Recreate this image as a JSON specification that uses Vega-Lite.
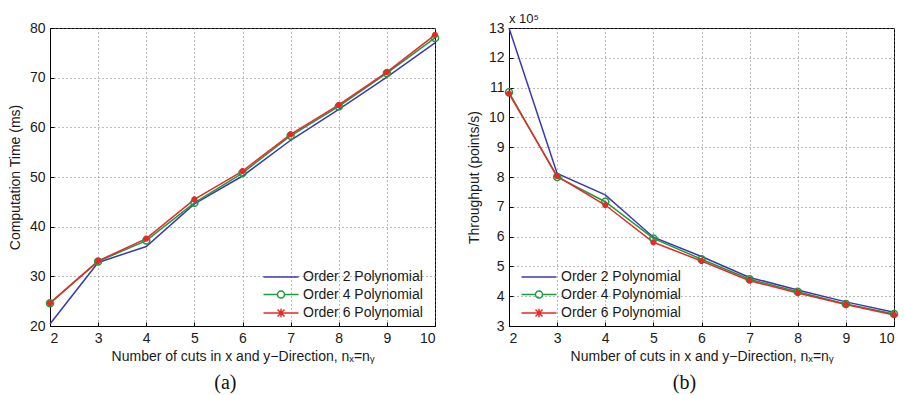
{
  "$schema": "https://vega.github.io/schema/vega-lite/v6.json",
  "background": "white",
  "padding": {"left": 7, "top": 12, "right": 5, "bottom": 0},
  "datasets": {
    "time": [
      {"n": 2, "order": "Order 2 Polynomial", "value": 20.4},
      {"n": 3, "order": "Order 2 Polynomial", "value": 32.8},
      {"n": 4, "order": "Order 2 Polynomial", "value": 36.0},
      {"n": 5, "order": "Order 2 Polynomial", "value": 44.6},
      {"n": 6, "order": "Order 2 Polynomial", "value": 50.2},
      {"n": 7, "order": "Order 2 Polynomial", "value": 57.4},
      {"n": 8, "order": "Order 2 Polynomial", "value": 63.6},
      {"n": 9, "order": "Order 2 Polynomial", "value": 70.1},
      {"n": 10, "order": "Order 2 Polynomial", "value": 77.0},
      {"n": 2, "order": "Order 4 Polynomial", "value": 24.6},
      {"n": 3, "order": "Order 4 Polynomial", "value": 33.0},
      {"n": 4, "order": "Order 4 Polynomial", "value": 37.2},
      {"n": 5, "order": "Order 4 Polynomial", "value": 44.8},
      {"n": 6, "order": "Order 4 Polynomial", "value": 50.8},
      {"n": 7, "order": "Order 4 Polynomial", "value": 58.3},
      {"n": 8, "order": "Order 4 Polynomial", "value": 64.2},
      {"n": 9, "order": "Order 4 Polynomial", "value": 70.9},
      {"n": 10, "order": "Order 4 Polynomial", "value": 78.0},
      {"n": 2, "order": "Order 6 Polynomial", "value": 24.6},
      {"n": 3, "order": "Order 6 Polynomial", "value": 33.1},
      {"n": 4, "order": "Order 6 Polynomial", "value": 37.6},
      {"n": 5, "order": "Order 6 Polynomial", "value": 45.5},
      {"n": 6, "order": "Order 6 Polynomial", "value": 51.2},
      {"n": 7, "order": "Order 6 Polynomial", "value": 58.6},
      {"n": 8, "order": "Order 6 Polynomial", "value": 64.5},
      {"n": 9, "order": "Order 6 Polynomial", "value": 71.1},
      {"n": 10, "order": "Order 6 Polynomial", "value": 78.6}
    ],
    "tput": [
      {"n": 2, "order": "Order 2 Polynomial", "value": 1300000},
      {"n": 3, "order": "Order 2 Polynomial", "value": 812000},
      {"n": 4, "order": "Order 2 Polynomial", "value": 740000},
      {"n": 5, "order": "Order 2 Polynomial", "value": 598000},
      {"n": 6, "order": "Order 2 Polynomial", "value": 533000},
      {"n": 7, "order": "Order 2 Polynomial", "value": 463000},
      {"n": 8, "order": "Order 2 Polynomial", "value": 421000},
      {"n": 9, "order": "Order 2 Polynomial", "value": 381000},
      {"n": 10, "order": "Order 2 Polynomial", "value": 346000},
      {"n": 2, "order": "Order 4 Polynomial", "value": 1084000},
      {"n": 3, "order": "Order 4 Polynomial", "value": 800000},
      {"n": 4, "order": "Order 4 Polynomial", "value": 717000},
      {"n": 5, "order": "Order 4 Polynomial", "value": 594000},
      {"n": 6, "order": "Order 4 Polynomial", "value": 524000},
      {"n": 7, "order": "Order 4 Polynomial", "value": 457000},
      {"n": 8, "order": "Order 4 Polynomial", "value": 415000},
      {"n": 9, "order": "Order 4 Polynomial", "value": 374000},
      {"n": 10, "order": "Order 4 Polynomial", "value": 340000},
      {"n": 2, "order": "Order 6 Polynomial", "value": 1080000},
      {"n": 3, "order": "Order 6 Polynomial", "value": 803000},
      {"n": 4, "order": "Order 6 Polynomial", "value": 706000},
      {"n": 5, "order": "Order 6 Polynomial", "value": 581000},
      {"n": 6, "order": "Order 6 Polynomial", "value": 518000},
      {"n": 7, "order": "Order 6 Polynomial", "value": 452000},
      {"n": 8, "order": "Order 6 Polynomial", "value": 411000},
      {"n": 9, "order": "Order 6 Polynomial", "value": 372000},
      {"n": 10, "order": "Order 6 Polynomial", "value": 337000}
    ],
    "note": [{"label": "x 10⁵"}]
  },
  "bounds": "flush",
  "spacing": 74,
  "resolve": {"scale": {"color": "independent"}, "legend": {"color": "independent"}},
  "hconcat": [
    {
      "width": 385,
      "height": 298,
      "title": {"text": "(a)", "orient": "bottom", "anchor": "middle", "frame": "bounds", "font": "Liberation Serif", "fontSize": 20, "fontWeight": "normal", "color": "#111", "offset": 10},
      "layer": [
        {
          "data": {"name": "time"},
          "mark": {"type": "line", "strokeWidth": 1.5},
          "encoding": {
            "x": {"field": "n", "type": "quantitative", "scale": {"domain": [2, 10], "nice": false},
              "axis": {"values": [2, 3, 4, 5, 6, 7, 8, 9, 10], "title": "Number of cuts in x and y−Direction, nₓ=nᵧ"}},
            "y": {"field": "value", "type": "quantitative", "scale": {"domain": [20, 80], "nice": false, "zero": false},
              "axis": {"values": [20, 30, 40, 50, 60, 70, 80], "title": "Computation Time (ms)"}},
            "color": {"field": "order", "type": "nominal",
              "scale": {"domain": ["Order 2 Polynomial", "Order 4 Polynomial", "Order 6 Polynomial"], "range": ["#3a3ab0", "#1f9a3c", "#e62a26"]},
              "legend": {"orient": "none", "legendX": 210, "legendY": 242, "title": null, "padding": 0,
                "labelFont": "Liberation Sans", "labelFontSize": 14, "labelColor": "#1a1a1a",
                "symbolSize": 49, "labelOffset": 29, "rowPadding": 3.5, "symbolStrokeWidth": 1.5,
                "encode": {"symbols": {"update": {
                  "shape": {"signal": "datum.value == 'Order 2 Polynomial' ? 'M-1,0H9' : datum.value == 'Order 4 Polynomial' ? 'M-1,0H3M5,0H9M5,0A1,1 0 1,1 3,0A1,1 0 1,1 5,0' : 'M-1,0H9M3,-1L5,1M3,1L5,-1M4,-1.2V1.2'"},
                  "fill": {"value": "transparent"},
                  "strokeWidth": {"value": 1.5}}}}}}
          }
        },
        {
          "data": {"name": "time"},
          "transform": [{"filter": "datum.order == 'Order 4 Polynomial'"}],
          "mark": {"type": "point", "shape": "circle", "filled": false, "color": "#1f9a3c", "size": 49, "strokeWidth": 1.5, "opacity": 1},
          "encoding": {
            "x": {"field": "n", "type": "quantitative",
              "axis": {"values": [2, 3, 4, 5, 6, 7, 8, 9, 10], "title": "Number of cuts in x and y−Direction, nₓ=nᵧ"}},
            "y": {"field": "value", "type": "quantitative",
              "axis": {"values": [20, 30, 40, 50, 60, 70, 80], "title": "Computation Time (ms)"}}
          }
        },
        {
          "data": {"name": "time"},
          "transform": [{"filter": "datum.order == 'Order 6 Polynomial'"}],
          "mark": {"type": "point", "shape": "M-1,0H1M0,-1V1M-0.7,-0.7L0.7,0.7M-0.7,0.7L0.7,-0.7", "filled": false, "color": "#e62a26", "size": 36, "strokeWidth": 2.2, "opacity": 1},
          "encoding": {
            "x": {"field": "n", "type": "quantitative",
              "axis": {"values": [2, 3, 4, 5, 6, 7, 8, 9, 10], "title": "Number of cuts in x and y−Direction, nₓ=nᵧ"}},
            "y": {"field": "value", "type": "quantitative",
              "axis": {"values": [20, 30, 40, 50, 60, 70, 80], "title": "Computation Time (ms)"}}
          }
        }
      ]
    },
    {
      "width": 385,
      "height": 298,
      "title": {"text": "(b)", "orient": "bottom", "anchor": "middle", "frame": "bounds", "font": "Liberation Serif", "fontSize": 20, "fontWeight": "normal", "color": "#111", "offset": 10},
      "layer": [
        {
          "data": {"name": "tput"},
          "mark": {"type": "line", "strokeWidth": 1.5},
          "encoding": {
            "x": {"field": "n", "type": "quantitative", "scale": {"domain": [2, 10], "nice": false},
              "axis": {"values": [2, 3, 4, 5, 6, 7, 8, 9, 10], "title": "Number of cuts in x and y−Direction, nₓ=nᵧ"}},
            "y": {"field": "value", "type": "quantitative", "scale": {"domain": [300000, 1300000], "nice": false, "zero": false},
              "axis": {"values": [300000, 400000, 500000, 600000, 700000, 800000, 900000, 1000000, 1100000, 1200000, 1300000],
                "tickCount": 11, "labelExpr": "format(datum.value / 100000, 'd')", "labelOverlap": false, "title": "Throughput (points/s)"}},
            "color": {"field": "order", "type": "nominal",
              "scale": {"domain": ["Order 2 Polynomial", "Order 4 Polynomial", "Order 6 Polynomial"], "range": ["#3a3ab0", "#1f9a3c", "#e62a26"]},
              "legend": {"orient": "none", "legendX": 9, "legendY": 242, "title": null, "padding": 0,
                "labelFont": "Liberation Sans", "labelFontSize": 14, "labelColor": "#1a1a1a",
                "symbolSize": 49, "labelOffset": 29, "rowPadding": 3.5, "symbolStrokeWidth": 1.5,
                "encode": {"symbols": {"update": {
                  "shape": {"signal": "datum.value == 'Order 2 Polynomial' ? 'M-1,0H9' : datum.value == 'Order 4 Polynomial' ? 'M-1,0H3M5,0H9M5,0A1,1 0 1,1 3,0A1,1 0 1,1 5,0' : 'M-1,0H9M3,-1L5,1M3,1L5,-1M4,-1.2V1.2'"},
                  "fill": {"value": "transparent"},
                  "strokeWidth": {"value": 1.5}}}}}}
          }
        },
        {
          "data": {"name": "tput"},
          "transform": [{"filter": "datum.order == 'Order 4 Polynomial'"}],
          "mark": {"type": "point", "shape": "circle", "filled": false, "color": "#1f9a3c", "size": 49, "strokeWidth": 1.5, "opacity": 1},
          "encoding": {
            "x": {"field": "n", "type": "quantitative",
              "axis": {"values": [2, 3, 4, 5, 6, 7, 8, 9, 10], "title": "Number of cuts in x and y−Direction, nₓ=nᵧ"}},
            "y": {"field": "value", "type": "quantitative",
              "axis": {"values": [300000, 400000, 500000, 600000, 700000, 800000, 900000, 1000000, 1100000, 1200000, 1300000],
                "tickCount": 11, "labelExpr": "format(datum.value / 100000, 'd')", "labelOverlap": false, "title": "Throughput (points/s)"}}
          }
        },
        {
          "data": {"name": "tput"},
          "transform": [{"filter": "datum.order == 'Order 6 Polynomial'"}],
          "mark": {"type": "point", "shape": "M-1,0H1M0,-1V1M-0.7,-0.7L0.7,0.7M-0.7,0.7L0.7,-0.7", "filled": false, "color": "#e62a26", "size": 36, "strokeWidth": 2.2, "opacity": 1},
          "encoding": {
            "x": {"field": "n", "type": "quantitative",
              "axis": {"values": [2, 3, 4, 5, 6, 7, 8, 9, 10], "title": "Number of cuts in x and y−Direction, nₓ=nᵧ"}},
            "y": {"field": "value", "type": "quantitative",
              "axis": {"values": [300000, 400000, 500000, 600000, 700000, 800000, 900000, 1000000, 1100000, 1200000, 1300000],
                "tickCount": 11, "labelExpr": "format(datum.value / 100000, 'd')", "labelOverlap": false, "title": "Throughput (points/s)"}}
          }
        },
        {
          "data": {"name": "note"},
          "mark": {"type": "text", "align": "left", "baseline": "bottom", "dy": -2, "font": "Liberation Sans", "fontSize": 13, "fill": "#1a1a1a", "opacity": 1},
          "encoding": {
            "x": {"datum": 2, "type": "quantitative",
              "axis": {"values": [2, 3, 4, 5, 6, 7, 8, 9, 10], "title": "Number of cuts in x and y−Direction, nₓ=nᵧ"}},
            "y": {"datum": 1300000, "type": "quantitative",
              "axis": {"values": [300000, 400000, 500000, 600000, 700000, 800000, 900000, 1000000, 1100000, 1200000, 1300000],
                "tickCount": 11, "labelExpr": "format(datum.value / 100000, 'd')", "labelOverlap": false, "title": "Throughput (points/s)"}},
            "text": {"field": "label", "type": "nominal"}
          }
        }
      ]
    }
  ],
  "config": {
    "view": {"stroke": "#000", "strokeWidth": 1},
    "axis": {
      "labelFont": "Liberation Sans", "labelFontSize": 14, "labelColor": "#1a1a1a",
      "titleFont": "Liberation Sans", "titleFontSize": 14, "titleFontWeight": "normal", "titleColor": "#1a1a1a",
      "domainColor": "#000", "tickColor": "#000", "tickSize": -4, "labelPadding": 9,
      "grid": true, "gridColor": "#777", "gridDash": [1, 3], "gridOpacity": 1, "gridWidth": 1
    },
    "axisX": {"titlePadding": 4},
    "axisY": {"titlePadding": 7}
  }
}
